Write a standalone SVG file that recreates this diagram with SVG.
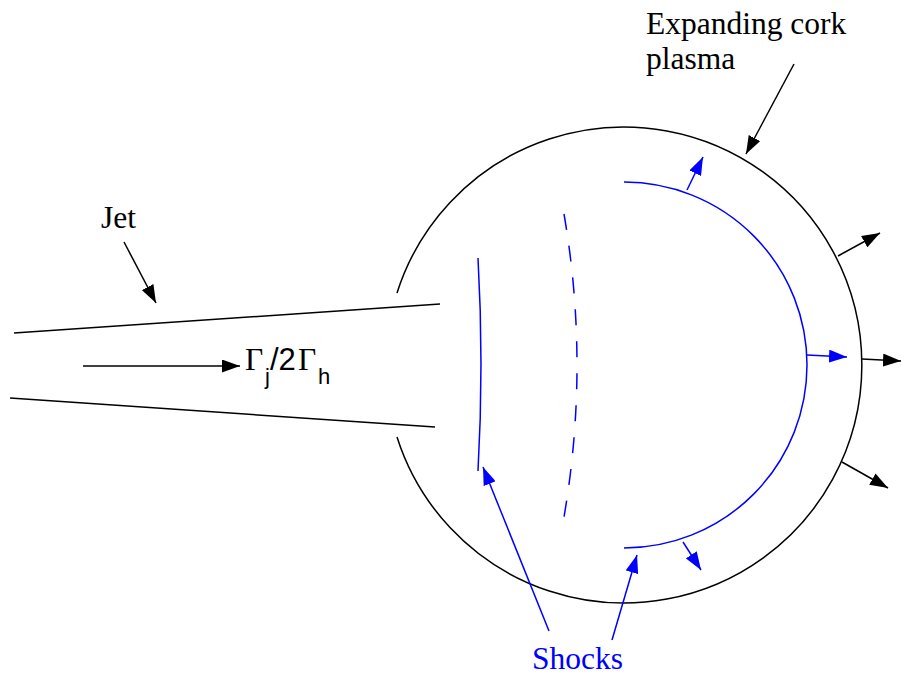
<svg xmlns="http://www.w3.org/2000/svg" width="902" height="679" viewBox="0 0 902 679">
<style>
.k{stroke:#000;stroke-width:1.5;fill:none}
.b{stroke:#0000ff;stroke-width:1.5;fill:none}
.ka{stroke:#000;stroke-width:1.5;fill:none;marker-end:url(#mk)}
.ba{stroke:#0000ff;stroke-width:1.5;fill:none;marker-end:url(#mb)}
.serif{font-family:"Liberation Serif","Times New Roman",serif;font-size:31.5px}
.sans{font-family:"Liberation Sans",Arial,sans-serif}
</style>
<defs>
<marker id="mk" markerUnits="userSpaceOnUse" markerWidth="18" markerHeight="13" refX="18" refY="6.5" orient="auto"><path d="M0,0 L18,6.5 L0,13 z" fill="#000"/></marker>
<marker id="mb" markerUnits="userSpaceOnUse" markerWidth="18" markerHeight="13" refX="18" refY="6.5" orient="auto"><path d="M0,0 L18,6.5 L0,13 z" fill="#0000ff"/></marker>
</defs>
<rect width="902" height="679" fill="#fff"/>
<g id="jet">
<line class="k" x1="14" y1="333" x2="440" y2="304"/>
<line class="k" x1="10" y1="398" x2="435" y2="427"/>
</g>
<g id="cork">
<path class="k" d="M397,293 A238,238 0 1 1 397,437"/>
</g>
<g id="shocks">
<path class="b" d="M624,182 A183,183 0 0 1 807,365 A183,183 0 0 1 624,548"/>
<path class="b" d="M478,258 Q484,364 478,471"/>
<path class="b" d="M564,214 Q590,365 564,517" stroke-dasharray="16 16"/>
</g>
<g id="connectors">
<line class="ka" x1="83" y1="366" x2="240" y2="366"/>
<line class="ka" x1="124" y1="242" x2="156" y2="303"/>
<line class="ka" x1="794" y1="64" x2="746" y2="154"/>
<line class="ka" x1="838" y1="256" x2="880" y2="233"/>
<line class="ka" x1="862" y1="359" x2="901" y2="361"/>
<line class="ka" x1="842" y1="462" x2="888" y2="488"/>
<line class="ba" x1="687" y1="190" x2="703" y2="157"/>
<line class="ba" x1="807" y1="355" x2="847" y2="357"/>
<line class="ba" x1="683" y1="542" x2="701" y2="570"/>
<line class="ba" x1="549" y1="631" x2="483" y2="467"/>
<line class="ba" x1="612" y1="640" x2="637" y2="555"/>
</g>
<g id="labels">
<text class="serif" x="101" y="228">Jet</text>
<text class="serif" x="646" y="34">Expanding cork</text>
<text class="serif" x="646" y="69">plasma</text>
<text class="serif" x="532" y="669" fill="#0000ff">Shocks</text>
<text y="370"><tspan class="serif" x="245" font-size="34">Γ</tspan><tspan class="sans" x="265" y="384" font-size="22">j</tspan><tspan class="sans" x="270" y="370" font-size="31">/2</tspan><tspan class="serif" x="298" font-size="34">Γ</tspan><tspan class="sans" x="318" y="384" font-size="22">h</tspan></text>
</g>
</svg>
